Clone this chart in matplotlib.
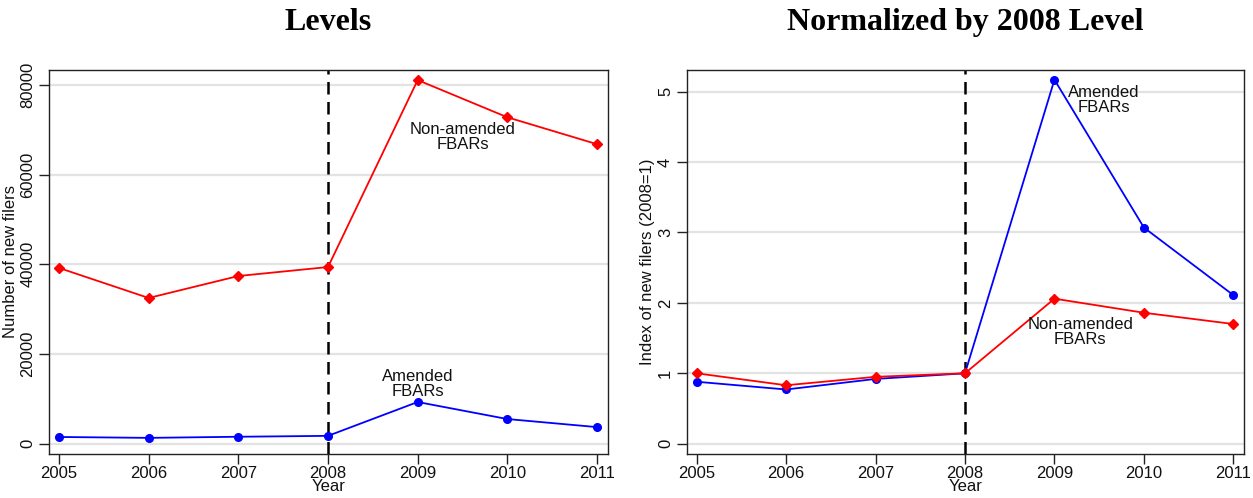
import matplotlib
matplotlib.use("Agg")
import matplotlib.pyplot as plt

years = [2005, 2006, 2007, 2008, 2009, 2010, 2011]
nonamended_levels = [39200, 32500, 37400, 39400, 81100, 72800, 66800]
amended_levels = [1500, 1300, 1550, 1750, 9300, 5500, 3700]
nonamended_index = [1.00, 0.83, 0.95, 1.00, 2.06, 1.86, 1.70]
amended_index = [0.88, 0.77, 0.92, 1.00, 5.17, 3.07, 2.11]

left_yticks = [0, 20000, 40000, 60000, 80000]
right_yticks = [0, 1, 2, 3, 4, 5]

plt.rcParams['font.family'] = ['Liberation Sans', 'DejaVu Sans']

fig = plt.figure(figsize=(12.53, 4.98), dpi=100)
W, H = 1253, 498
def axes_px(x0, x1, y0, y1):
    return fig.add_axes([x0 / W, 1 - y1 / H, (x1 - x0) / W, (y1 - y0) / H])

ax1 = axes_px(49.3, 607.7, 70, 453.7)
ax2 = axes_px(687, 1244, 70, 453.7)

RED = '#ff0000'
BLUE = '#0000ff'
GRID = '#e3e3e3'
FS = 12

def style(ax, yticks, ylim, ylabel, title):
    ax.set_xlim(2004.892, 2011.119)
    ax.set_ylim(*ylim)
    ax.set_xticks(years)
    ax.set_xticklabels([str(y) for y in years])
    ax.set_yticks(yticks)
    ax.set_yticklabels([str(t) for t in yticks], rotation=90, va='center')
    for t in yticks:
        ax.axhline(t, color=GRID, lw=1.6, zorder=0)
    ax.tick_params(axis='both', direction='out', length=7, width=1, labelsize=FS,
                   colors='#222222', labelcolor='#111111')
    ax.tick_params(axis='x', pad=1.5)
    ax.tick_params(axis='y', pad=3)
    for s in ax.spines.values():
        s.set_color('#222222')
        s.set_linewidth(1.0)
    ax.set_xlabel('Year', fontsize=FS, labelpad=-1, color='#111111')
    ax.set_ylabel(ylabel, fontsize=FS, labelpad=2, color='#111111')
    ax.axvline(2008, color='black', lw=1.8, ls=(0, (5, 3)), zorder=1)
    ax.set_title(title, fontsize=23, fontweight='bold', family='Liberation Serif', pad=29)

style(ax1, left_yticks, (-2230, 83345), 'Number of new filers', 'Levels')
style(ax2, right_yticks, (-0.142, 5.308), 'Index of new filers (2008=1)', 'Normalized by 2008 Level')

ax1.plot(years, nonamended_levels, color=RED, lw=1.3, marker='D', ms=5.5, zorder=3)
ax1.plot(years, amended_levels, color=BLUE, lw=1.3, marker='o', ms=5.5, zorder=3)
ax2.plot(years, amended_index, color=BLUE, lw=1.3, marker='o', ms=5.5, zorder=3)
ax2.plot(years, nonamended_index, color=RED, lw=1.3, marker='D', ms=5.5, zorder=3)

kw = dict(ha='center', va='center', fontsize=FS, linespacing=1.0, color='#111111')
ax1.text(2009.5, 68400, 'Non-amended\nFBARs', **kw)
ax1.text(2009.0, 13300, 'Amended\nFBARs', **kw)
ax2.text(2009.55, 4.88, 'Amended\nFBARs', **kw)
ax2.text(2009.29, 1.59, 'Non-amended\nFBARs', **kw)

fig.savefig('out.png', dpi=100)
